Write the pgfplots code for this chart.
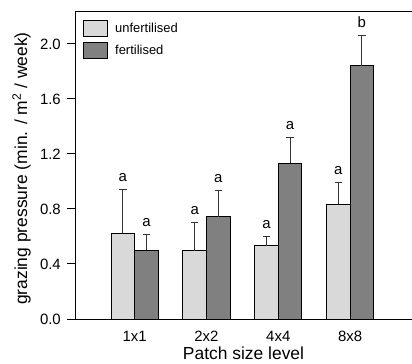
\documentclass[border=0pt]{standalone}
\usepackage{fontspec}
\setmainfont{Liberation Sans}
\usepackage{pgfplots}
\usepackage{pgfplotstable}
\pgfplotsset{compat=1.18}

\definecolor{lightbar}{HTML}{D9D9D9}
\definecolor{darkbar}{HTML}{808080}
\definecolor{errgray}{HTML}{333333}

% means, upper error (SE) and significance letters per patch size
\pgfplotstableread{
x  lo    loerr  lolab  hi    hierr  hilab
0  0.625 0.318  a      0.500 0.116  a
1  0.495 0.205  a      0.744 0.189  a
2  0.533 0.067  a      1.132 0.188  a
3  0.836 0.154  a      1.840 0.225  b
}\grazing

\pgfplotsset{
  sqlegend/.style={legend image code/.code={%
    \draw[##1] (0bp,-8bp) rectangle (24bp,8bp); \path (31bp,0bp);}},
  errs/.style={
    error bars/y dir=plus, error bars/y explicit,
    error bars/error bar style={line width=1bp, errgray},
    error bars/error mark options={rotate=90, line width=1bp, errgray, mark size=3.7bp},
  },
  letters/.style={draw=none, fill=none, forget plot, bar shift=#1,
    nodes near coords, point meta=explicit symbolic,
    every node near coord/.append style={anchor=base, inner sep=0pt, text=black,
      font=\fontsize{15}{17}\selectfont, yshift=8bp}},
}

\begin{document}
\begin{tikzpicture}
\useasboundingbox (-75bp,-45bp) rectangle (337bp,319bp);
\begin{axis}[
  at={(0,0)}, anchor=south west,
  scale only axis, width=337bp, height=307bp,
  xmin=-0.831, xmax=3.862, ymin=0, ymax=2.2327,
  axis y line*=left, axis x line*=box,
  axis line style={line width=1bp},
  ybar=0pt, bar width=23.6bp,
  xtick=data, xticklabels={1x1,2x2,4x4,8x8},
  xtick style={draw=none},
  ytick={0,0.4,0.8,1.2,1.6,2.0},
  tick align=outside, major tick length=8bp,
  ytick style={line width=1bp, black},
  /pgf/number format/assume math mode=true,
  yticklabel style={/pgf/number format/fixed, /pgf/number format/fixed zerofill,
    /pgf/number format/precision=1, anchor=east, inner sep=0pt, xshift=-6bp},
  xticklabel style={anchor=base, inner sep=0pt, yshift=-14.5bp},
  tick label style={font=\fontsize{15}{18}\selectfont},
  xlabel={Patch size level},
  ylabel={grazing pressure (min. / m\textsuperscript{2} / week)},
  every axis x label/.style={at={(rel axis cs:0.5,-0.1319)}, anchor=base,
    inner sep=0pt, font=\fontsize{17.5}{20}\selectfont},
  every axis y label/.style={at={(rel axis cs:-0.1424,0.49)}, rotate=90, anchor=base,
    inner sep=0pt, font=\fontsize{17.5}{20}\selectfont},
  legend style={at={(rel axis cs:0.0237,0.974)}, anchor=north west, draw=none, fill=none,
    inner sep=0pt, row sep=5bp, font=\fontsize{13}{15}\selectfont,
    nodes={inner sep=0pt}},
  legend cell align=left,
]
\addplot[fill=lightbar, draw=black, line width=1bp, sqlegend, errs]
  table[x=x, y=lo, y error=loerr] {\grazing};
\addlegendentry{unfertilised}
\addplot[fill=darkbar, draw=black, line width=1bp, sqlegend, errs]
  table[x=x, y=hi, y error=hierr] {\grazing};
\addlegendentry{fertilised}
% significance letters above the error bars
\addplot[letters=-11.8bp] table[x=x, y expr=\thisrow{lo}+\thisrow{loerr}, meta=lolab] {\grazing};
\addplot[letters=11.8bp] table[x=x, y expr=\thisrow{hi}+\thisrow{hierr}, meta=hilab] {\grazing};
\end{axis}
\end{tikzpicture}
\end{document}
